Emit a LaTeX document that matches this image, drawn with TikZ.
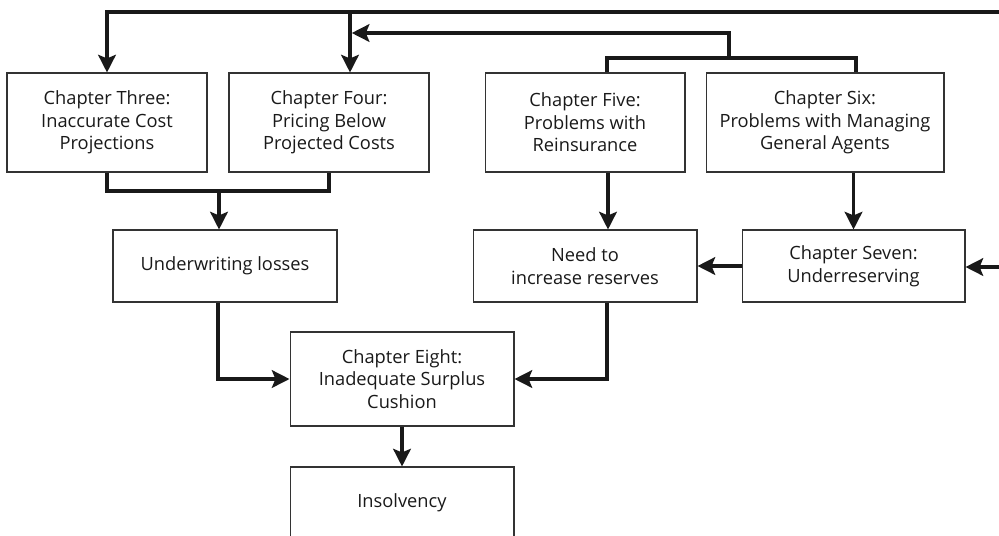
\documentclass[tikz,border=0pt]{standalone}
\usepackage{fontspec}
\setmainfont{Open Sans}
\usetikzlibrary{arrows.meta}

\begin{document}
\begin{tikzpicture}[x=0.02cm,y=-0.02cm,
  box/.style={rectangle,draw=black!80,line width=0.6pt,align=center,inner sep=0pt,text=black!90,font=\fontsize{10.4}{12.8}\selectfont},
  link/.style={line width=2pt,draw=black!90},
  arr/.style={link,-{Stealth[length=10pt,width=10pt,inset=2pt]}}]
\useasboundingbox (0,0) rectangle (999,535);

\node[box,minimum width=4cm,minimum height=1.98cm] (three) at (107,122.5) {Chapter Three:\\Inaccurate Cost\\Projections};
\node[box,minimum width=4cm,minimum height=1.98cm] (four) at (329,122.5) {Chapter Four:\\Pricing Below\\Projected Costs};
\node[box,minimum width=4cm,minimum height=1.98cm] (five) at (585,122.5) {Chapter Five:\\Problems with\\Reinsurance};
\node[box,minimum width=4.76cm,minimum height=1.98cm] (six) at (825,122.5) {Chapter Six:\\Problems with Managing\\General Agents};

\node[box,minimum width=4.48cm,minimum height=1.44cm] (under) at (225,266) {Underwriting losses};
\node[box,minimum width=4.48cm,minimum height=1.44cm] (need) at (585,266) {Need to\\increase reserves};
\node[box,minimum width=4.46cm,minimum height=1.44cm] (seven) at (853.5,266) {Chapter Seven:\\Underreserving};

\node[box,minimum width=4.48cm,minimum height=1.88cm] (eight) at (402,379) {Chapter Eight:\\Inadequate Surplus\\Cushion};
\node[box,minimum width=4.48cm,minimum height=1.44cm] (insolv) at (402,503) {Insolvency};

\coordinate (topA) at (999,12); % from the right, upper
\coordinate (topB) at (999,267); % from the right, lower
\coordinate (fork) at (729,58);
\coordinate (back) at (350,33);
\coordinate (split) at (219,191);

\draw[arr] (topA) -| (three.north); %3
\draw[arr] (back |- topA) -- (back |- four.north); %4
\draw[link] ([xshift=0.44cm]five.north) |- (fork) -| ([xshift=0.62cm]six.north); %56
\draw[arr] (fork) |- ([xshift=1pt]back); %56-4
\draw[link] (three.south) |- (split) -| (four.south); %34
\draw[arr] (split) -- (split |- under.north); %34-u
\draw[arr] ([xshift=0.46cm]five.south) -- ([xshift=0.46cm]five.south |- need.north); %5n
\draw[arr] (six.south -| seven.north) -- (seven.north); %67
\draw[arr] (seven.west) -- (need.east); %7n
\draw[arr] (topB) -- (topB -| seven.east); %7
\draw[arr] ([xshift=-0.14cm]under.south) |- (eight.west); %u8
\draw[arr] ([xshift=0.44cm]need.south) |- (eight.east); %n8
\draw[arr] (eight.south) -- (insolv.north); %8i

\end{tikzpicture}
\end{document}
